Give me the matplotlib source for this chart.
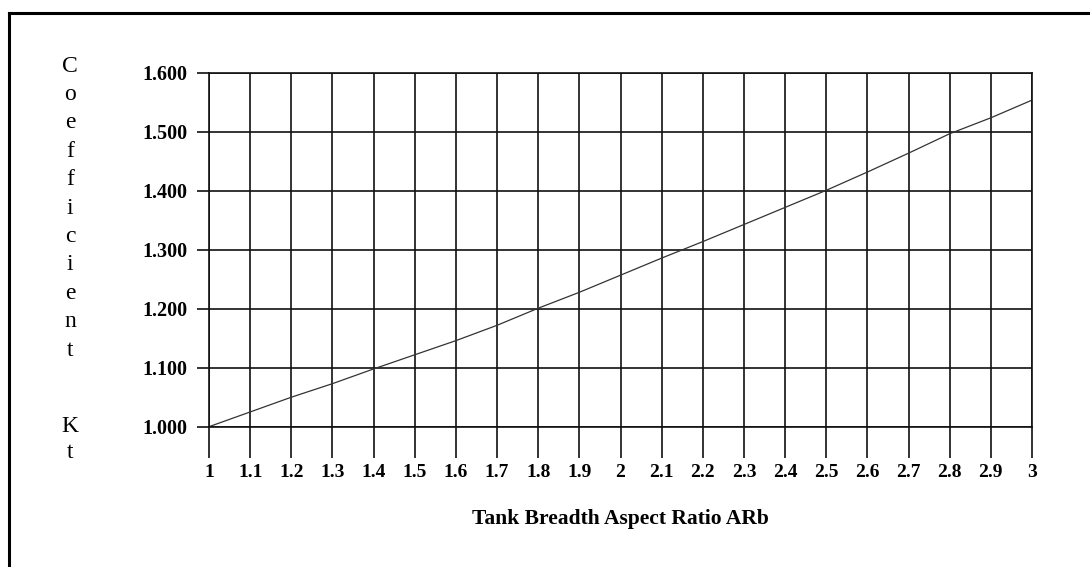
import matplotlib.pyplot as plt
from matplotlib.lines import Line2D

# aspect ratio ARb vs coefficient Kt
ratio = [1.0, 1.1, 1.2, 1.3, 1.4, 1.5, 1.6, 1.7, 1.8, 1.9, 2.0,
         2.1, 2.2, 2.3, 2.4, 2.5, 2.6, 2.7, 2.8, 2.9, 3.0]
kt = [1.000, 1.025, 1.050, 1.073, 1.098, 1.122, 1.146, 1.172, 1.201, 1.228, 1.257,
      1.286, 1.314, 1.343, 1.372, 1.401, 1.432, 1.464, 1.497, 1.524, 1.554]

x_labels = ["1", "1.1", "1.2", "1.3", "1.4", "1.5", "1.6", "1.7", "1.8", "1.9", "2",
            "2.1", "2.2", "2.3", "2.4", "2.5", "2.6", "2.7", "2.8", "2.9", "3"]
y_ticks = [1.0, 1.1, 1.2, 1.3, 1.4, 1.5, 1.6]
y_letters = list("Coefficient")
y_letters2 = list("Kt")

plt.rcParams['font.family'] = ['Liberation Serif', 'DejaVu Serif']

W, H = 1090, 567
fig = plt.figure(figsize=(W / 100, H / 100), dpi=100)
ax = fig.add_axes([209 / W, 1 - 426.7 / H, (1032 - 209) / W, (426.7 - 73) / H])

ax.plot(ratio, kt, color='#333333', lw=0.9)

ax.set_xlim(1, 3)
ax.set_ylim(1.0, 1.6)
ax.set_xticks(ratio)
ax.set_xticklabels(x_labels, fontsize=14, fontweight='bold')
ax.set_yticks(y_ticks)
ax.set_yticklabels([f"{v:.3f}" for v in y_ticks], fontsize=14.5, fontweight='bold')
ax.grid(True, color='#111111', lw=1.2)
ax.tick_params(axis='x', direction='out', length=22, width=1.2, pad=5, color='#111111')
ax.tick_params(axis='y', direction='out', length=8.5, width=1.2, pad=7, color='#111111')
for sp in ax.spines.values():
    sp.set_color('#111111')
    sp.set_linewidth(1.2)

ax.set_xlabel("Tank Breadth Aspect Ratio ARb", fontsize=15.5, fontweight='bold', labelpad=20)

# vertical stacked y label
for i, ch in enumerate(y_letters):
    fig.text(70 / W, 1 - (66 + i * 28.4) / H, ch, fontsize=17, ha='center', va='center')
for i, ch in enumerate(y_letters2):
    fig.text(70 / W, 1 - (426 + i * 27) / H, ch, fontsize=17, ha='center', va='center')

# outer frame (left and top edges)
fig.add_artist(Line2D([8.5 / W, 8.5 / W], [0, 1 - 13 / H], color='black', lw=2.2))
fig.add_artist(Line2D([8.5 / W, 1], [1 - 13 / H, 1 - 13 / H], color='black', lw=2.2))

fig.savefig("out.png", dpi=100)
